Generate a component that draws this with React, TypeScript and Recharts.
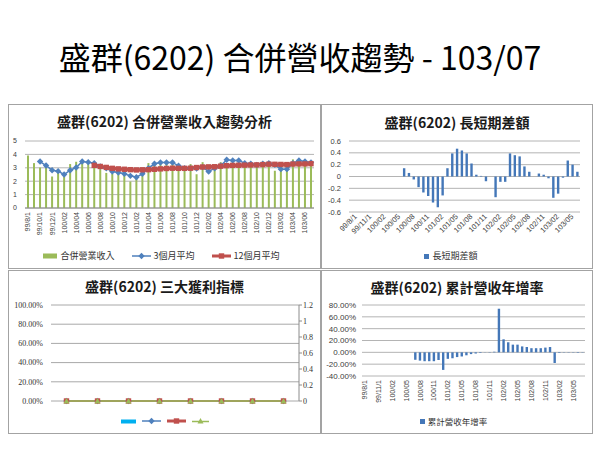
import React from "react";
import { Bar, BarChart, CartesianGrid, ComposedChart, Legend, Line, XAxis, YAxis } from "recharts";

const CJK = '"Noto Sans CJK TC", "Noto Sans", sans-serif';
const NUM = '"Liberation Sans", Arial, sans-serif';
const SERIF = '"Liberation Serif", "DejaVu Serif", serif';

// months 99/08 .. 103/07
const MONTHS = [
  "99/8/1", "99/9/1", "99/10/1", "99/11/1", "99/12/1",
  "100/01", "100/02", "100/03", "100/04", "100/05", "100/06",
  "100/07", "100/08", "100/09", "100/10", "100/11", "100/12",
  "101/01", "101/02", "101/03", "101/04", "101/05", "101/06",
  "101/07", "101/08", "101/09", "101/10", "101/11", "101/12",
  "102/01", "102/02", "102/03", "102/04", "102/05", "102/06",
  "102/07", "102/08", "102/09", "102/10", "102/11", "102/12",
  "103/01", "103/02", "103/03", "103/04", "103/05", "103/06", "103/07",
];

// 合併營業收入 (億)
const REVENUE = [
  3.92, 3.35, 3.02, 3.05, 2.35,
  2.85, 2.35, 3.28, 3.45, 3.5, 3.3,
  3.15, 2.9, 2.62, 2.55, 2.6, 2.7,
  1.98, 2.3, 2.65, 3.35, 3.25, 3.3,
  3.35, 3.3, 3.0, 2.9, 3.28, 2.52,
  3.42, 2.12, 3.1, 3.42, 3.35, 3.3,
  3.25, 3.2, 3.25, 3.2, 3.3, 3.35,
  2.78, 3.0, 3.1, 3.63, 3.4, 3.35, 3.3,
];

const AVG_3M = [
  null, null, 3.47, 3.17, 2.82,
  2.75, 2.5, 2.82, 3.02, 3.47, 3.42,
  3.34, 3.1, 2.97, 2.72, 2.65, 2.55,
  2.4, 2.3, 2.55, 2.97, 3.3, 3.4,
  3.4, 3.4, 3.15, 2.97, 2.97, 2.95,
  3.05, 2.72, 2.97, 3.15, 3.6, 3.55,
  3.55, 3.34, 3.3, 3.22, 3.3, 3.34,
  3.22, 2.9, 2.9, 3.34, 3.55, 3.47, 3.4,
];

const AVG_12M = [
  null, null, null, null, null,
  null, null, null, null, null, null,
  3.18, 3.1, 3.03, 2.96, 2.92, 2.89,
  2.86, 2.84, 2.85, 2.86, 2.89, 2.92,
  2.95, 2.97, 2.96, 2.96, 2.97, 3.02,
  3.06, 3.07, 3.08, 3.12, 3.16, 3.18,
  3.19, 3.2, 3.21, 3.22, 3.24, 3.27,
  3.26, 3.25, 3.24, 3.28, 3.29, 3.29, 3.31,
];

// 長短期差額
const LONG_SHORT = [
  null, null, null, null, null,
  null, null, null, null, null, null,
  0.14, 0.06, -0.05, -0.18, -0.27, -0.33,
  -0.44, -0.52, -0.32, 0.14, 0.39, 0.47,
  0.44, 0.39, 0.22, 0.03, 0.01, -0.08,
  0, -0.35, -0.09, -0.09, 0.39, 0.36,
  0.34, 0.17, 0.08, 0, 0.05, 0.03,
  -0.03, -0.36, -0.29, -0.02, 0.27, 0.2, 0.08,
];

// 累計營收年增率 (%)
const CUM_YOY = [
  null, null, null, null, null,
  null, null, null, null, null, null,
  -12.6, -14, -15, -15, -15, -13,
  -29.7, -11, -10, -8, -7, -5,
  -3, -2, -1, -0.3, 0.5, 1,
  73.7, 22, 17, 13, 13, 10,
  9, 7, 7, 7, 8, 9,
  -18, -1, -0.5, 0.5, -0.5, -0.5, -0.5,
];

// 三大獲利指標 (no data)
const PROFIT_PERIODS = ["p1", "p2", "p3", "p4", "p5", "p6", "p7", "p8"];
const GROSS_MARGIN = [0, 0, 0, 0, 0, 0, 0, 0];
const OP_MARGIN = [0, 0, 0, 0, 0, 0, 0, 0];
const NET_MARGIN = [0, 0, 0, 0, 0, 0, 0, 0];
const EPS = [0, 0, 0, 0, 0, 0, 0, 0];

const revenueData = MONTHS.map((m, i) => ({ m, rev: REVENUE[i], a3: AVG_3M[i], a12: AVG_12M[i] }));
const diffData = MONTHS.map((m, i) => ({ m, diff: LONG_SHORT[i] }));
const yoyData = MONTHS.map((m, i) => ({ m, yoy: CUM_YOY[i] }));
const profitData = PROFIT_PERIODS.map((p, i) => ({
  p,
  gm: GROSS_MARGIN[i],
  om: OP_MARGIN[i],
  nm: NET_MARGIN[i],
  eps: EPS[i],
}));

const GREEN = "#9bbb59";
const BLUE = "#4f81bd";
const RED = "#c0504d";
const BAR_BLUE = "#4477b8";
const GRID = "#b4b4b4";

function diamondDot(props: any) {
  const { cx, cy, index } = props;
  if (cx == null || cy == null) return <g key={index} />;
  const r = 3.2;
  return (
    <path key={index} d={`M${cx},${cy - r}L${cx + r},${cy}L${cx},${cy + r}L${cx - r},${cy}Z`} fill={BLUE} />
  );
}

function squareDot(props: any) {
  const { cx, cy, index } = props;
  if (cx == null || cy == null) return <g key={index} />;
  return <rect key={index} x={cx - 2.7} y={cy - 2.7} width={5.4} height={5.4} fill={RED} />;
}

function triangleDot(props: any) {
  const { cx, cy, index } = props;
  if (cx == null || cy == null) return <g key={index} />;
  return <path key={index} d={`M${cx},${cy - 3}L${cx + 3},${cy + 2.5}L${cx - 3},${cy + 2.5}Z`} fill={GREEN} />;
}

function VerticalTick(props: any) {
  const { x, y, payload } = props;
  return (
    <text
      x={x}
      y={y}
      transform={`rotate(-90 ${x} ${y})`}
      textAnchor="end"
      dy="0.35em"
      fontSize={7}
      fontFamily={NUM}
      fill="#404040"
    >
      {payload.value}
    </text>
  );
}

function SlantTick(props: any) {
  const { x, y, payload } = props;
  const tx = x + 6;
  const ty = y + 2;
  return (
    <text
      x={tx}
      y={ty}
      transform={`rotate(-45 ${tx} ${ty})`}
      textAnchor="end"
      fontSize={7.5}
      fontFamily={NUM}
      fill="#404040"
    >
      {payload.value}
    </text>
  );
}

type LegendKind = "rect" | "square" | "diamond" | "squareLine" | "triangle" | "cyan";

function LegendIcon({ kind }: { kind: LegendKind }) {
  if (kind === "rect")
    return (
      <svg width={14} height={6}>
        <rect x={0} y={0.5} width={14} height={5} fill={GREEN} />
      </svg>
    );
  if (kind === "cyan")
    return (
      <svg width={15} height={5}>
        <rect x={0} y={0.5} width={15} height={4} fill="#00b0f0" />
      </svg>
    );
  if (kind === "square")
    return (
      <svg width={5} height={5}>
        <rect x={0} y={0} width={5} height={5} fill={BAR_BLUE} />
      </svg>
    );
  if (kind === "diamond")
    return (
      <svg width={19} height={8}>
        <line x1={0} y1={4} x2={19} y2={4} stroke={BLUE} strokeWidth={1.5} />
        <path d="M9.5,0.8L12.7,4L9.5,7.2L6.3,4Z" fill={BLUE} />
      </svg>
    );
  if (kind === "squareLine")
    return (
      <svg width={19} height={8}>
        <line x1={0} y1={4} x2={19} y2={4} stroke={RED} strokeWidth={3} />
        <rect x={6.8} y={1.3} width={5.4} height={5.4} fill={RED} />
      </svg>
    );
  return (
    <svg width={17} height={8}>
      <line x1={0} y1={4.5} x2={17} y2={4.5} stroke={GREEN} strokeWidth={1.5} />
      <path d="M8.5,1L11.5,6.5L5.5,6.5Z" fill={GREEN} />
    </svg>
  );
}

function LegendRow({
  items,
  fontSize,
  gap,
}: {
  items: { kind: LegendKind; label?: string }[];
  fontSize: number;
  gap: number;
}) {
  return (
    <div
      style={{
        display: "flex",
        justifyContent: "center",
        alignItems: "center",
        height: 14,
        gap,
        fontFamily: CJK,
        fontSize,
        color: "#333",
        lineHeight: "14px",
      }}
    >
      {items.map((it, i) => (
        <span key={i} style={{ display: "flex", alignItems: "center", gap: 3 }}>
          <LegendIcon kind={it.kind} />
          {it.label ? <span>{it.label}</span> : null}
        </span>
      ))}
    </div>
  );
}

function Panel({
  left,
  top,
  width,
  height,
  title,
  titleY,
  children,
}: {
  left: number;
  top: number;
  width: number;
  height: number;
  title: string;
  titleY: number;
  children: React.ReactNode;
}) {
  return (
    <div
      style={{
        position: "absolute",
        left,
        top,
        width,
        height,
        border: "1px solid #a3a3a3",
        boxSizing: "border-box",
      }}
    >
      <div
        style={{
          position: "absolute",
          left: 0,
          right: 0,
          top: titleY - 10,
          height: 20,
          lineHeight: "20px",
          textAlign: "center",
          fontFamily: CJK,
          fontSize: 14,
          fontWeight: 700,
          color: "#1a1a1a",
          zIndex: 2,
        }}
      >
        {title}
      </div>
      <div style={{ position: "absolute", left: 0, top: 0 }}>{children}</div>
    </div>
  );
}

export default function App() {
  return (
    <div
      style={{
        position: "absolute",
        left: 0,
        top: 0,
        width: 600,
        height: 450,
        background: "#fff",
        overflow: "hidden",
      }}
    >
      <div
        style={{
          position: "absolute",
          left: 0,
          top: 36,
          width: 600,
          height: 40,
          lineHeight: "40px",
          textAlign: "center",
          fontFamily: CJK,
          fontSize: 32,
          color: "#000",
        }}
      >
        盛群(6202) 合併營收趨勢 - 103/07
      </div>

      {/* top-left: revenue trend */}
      <Panel left={8} top={104} width={313} height={165} title="盛群(6202) 合併營業收入趨勢分析" titleY={16}>
        <ComposedChart width={311} height={163} data={revenueData} margin={{ top: 36, right: 6, bottom: 5, left: 0 }}>
          <CartesianGrid vertical={false} stroke={GRID} />
          <XAxis
            dataKey="m"
            interval={1}
            height={41}
            tickSize={2}
            tickMargin={2}
            tickLine={false}
            axisLine={{ stroke: "#8c8c8c" }}
            tick={(p: any) => <VerticalTick {...p} />}
          />
          <YAxis
            domain={[0, 5]}
            ticks={[0, 1, 2, 3, 4, 5]}
            interval={0}
            width={16}
            axisLine={false}
            tickLine={false}
            tick={{ fontSize: 7, fill: "#404040", fontFamily: NUM }}
          />
          <Legend
            verticalAlign="bottom"
            content={() => (
              <LegendRow
                fontSize={9}
                gap={17}
                items={[
                  { kind: "rect", label: "合併營業收入" },
                  { kind: "diamond", label: "3個月平均" },
                  { kind: "squareLine", label: "12個月平均" },
                ]}
              />
            )}
          />
          <Bar dataKey="rev" fill={GREEN} barSize={2} isAnimationActive={false} />
          <Line dataKey="a3" stroke={BLUE} strokeWidth={1.5} dot={diamondDot} isAnimationActive={false} />
          <Line dataKey="a12" stroke={RED} strokeWidth={3.5} dot={squareDot} isAnimationActive={false} />
        </ComposedChart>
      </Panel>

      {/* top-right: long/short difference */}
      <Panel left={321} top={104} width={272} height={165} title="盛群(6202) 長短期差額" titleY={17}>
        <BarChart width={270} height={163} data={diffData} margin={{ top: 36, right: 12, bottom: 5, left: 0 }}>
          <CartesianGrid vertical={false} stroke={GRID} />
          <XAxis
            dataKey="m"
            interval={2}
            height={37}
            tickSize={2}
            tickMargin={1}
            tickLine={false}
            axisLine={false}
            tick={(p: any) => <SlantTick {...p} />}
          />
          <YAxis
            domain={[-0.6, 0.6]}
            ticks={[-0.6, -0.4, -0.2, 0, 0.2, 0.4, 0.6]}
            interval={0}
            width={27}
            axisLine={false}
            tickLine={false}
            tick={{ fontSize: 7.5, fill: "#404040", fontFamily: NUM }}
          />
          <Legend
            verticalAlign="bottom"
            content={() => <LegendRow fontSize={9} gap={0} items={[{ kind: "square", label: "長短期差額" }]} />}
          />
          <Bar dataKey="diff" fill={BAR_BLUE} barSize={2.4} isAnimationActive={false} />
        </BarChart>
      </Panel>

      {/* bottom-left: profitability indicators */}
      <Panel left={8} top={270} width={313} height={164} title="盛群(6202) 三大獲利指標" titleY={15}>
        <ComposedChart width={311} height={162} data={profitData} margin={{ top: 34, right: 0, bottom: 5, left: 0 }}>
          <CartesianGrid vertical={false} stroke="#a8a8a8" yAxisId="left" />
          <XAxis dataKey="p" height={13} tick={false} tickLine={false} axisLine={false} />
          <YAxis
            yAxisId="left"
            domain={[0, 1]}
            ticks={[0, 0.2, 0.4, 0.6, 0.8, 1]}
            interval={0}
            width={42}
            axisLine={false}
            tickLine={false}
            tickFormatter={(v: number) => `${(v * 100).toFixed(2)}%`}
            tick={{ fontSize: 8, fill: "#333", fontFamily: SERIF }}
          />
          <YAxis
            yAxisId="right"
            orientation="right"
            domain={[0, 1.2]}
            ticks={[0, 0.2, 0.4, 0.6, 0.8, 1, 1.2]}
            interval={0}
            width={21}
            axisLine={{ stroke: "#8c8c8c" }}
            tickLine={{ stroke: "#8c8c8c" }}
            tickSize={3}
            tickMargin={1}
            tick={{ fontSize: 8, fill: "#333", fontFamily: SERIF }}
          />
          <Legend
            verticalAlign="bottom"
            content={() => (
              <LegendRow
                fontSize={9}
                gap={6}
                items={[{ kind: "cyan" }, { kind: "diamond" }, { kind: "squareLine" }, { kind: "triangle" }]}
              />
            )}
          />
          <Bar yAxisId="left" dataKey="gm" fill="#00b0f0" barSize={10} isAnimationActive={false} />
          <Line yAxisId="right" dataKey="om" stroke={BLUE} strokeWidth={1.5} dot={diamondDot} isAnimationActive={false} />
          <Line yAxisId="right" dataKey="nm" stroke={RED} strokeWidth={1.5} dot={squareDot} isAnimationActive={false} />
          <Line yAxisId="right" dataKey="eps" stroke={GREEN} strokeWidth={1.5} dot={triangleDot} isAnimationActive={false} />
        </ComposedChart>
      </Panel>

      {/* bottom-right: cumulative revenue YoY */}
      <Panel left={321} top={270} width={272} height={164} title="盛群(6202) 累計營收年增率" titleY={16}>
        <BarChart width={270} height={162} data={yoyData} margin={{ top: 34, right: 7, bottom: 5, left: 0 }}>
          <CartesianGrid vertical={false} stroke={GRID} />
          <XAxis
            dataKey="m"
            interval={2}
            height={38}
            tickSize={2}
            tickMargin={2}
            tickLine={false}
            axisLine={false}
            tick={(p: any) => <VerticalTick {...p} />}
          />
          <YAxis
            domain={[-40, 80]}
            ticks={[-40, -20, 0, 20, 40, 60, 80]}
            interval={0}
            width={40}
            axisLine={false}
            tickLine={false}
            tickSize={4}
            tickFormatter={(v: number) => `${v.toFixed(2)}%`}
            tick={{ fontSize: 8, fill: "#404040", fontFamily: NUM }}
          />
          <Legend
            verticalAlign="bottom"
            content={() => <LegendRow fontSize={8.5} gap={0} items={[{ kind: "square", label: "累計營收年增率" }]} />}
          />
          <Bar dataKey="yoy" fill={BAR_BLUE} barSize={2.4} isAnimationActive={false} />
        </BarChart>
      </Panel>
    </div>
  );
}
